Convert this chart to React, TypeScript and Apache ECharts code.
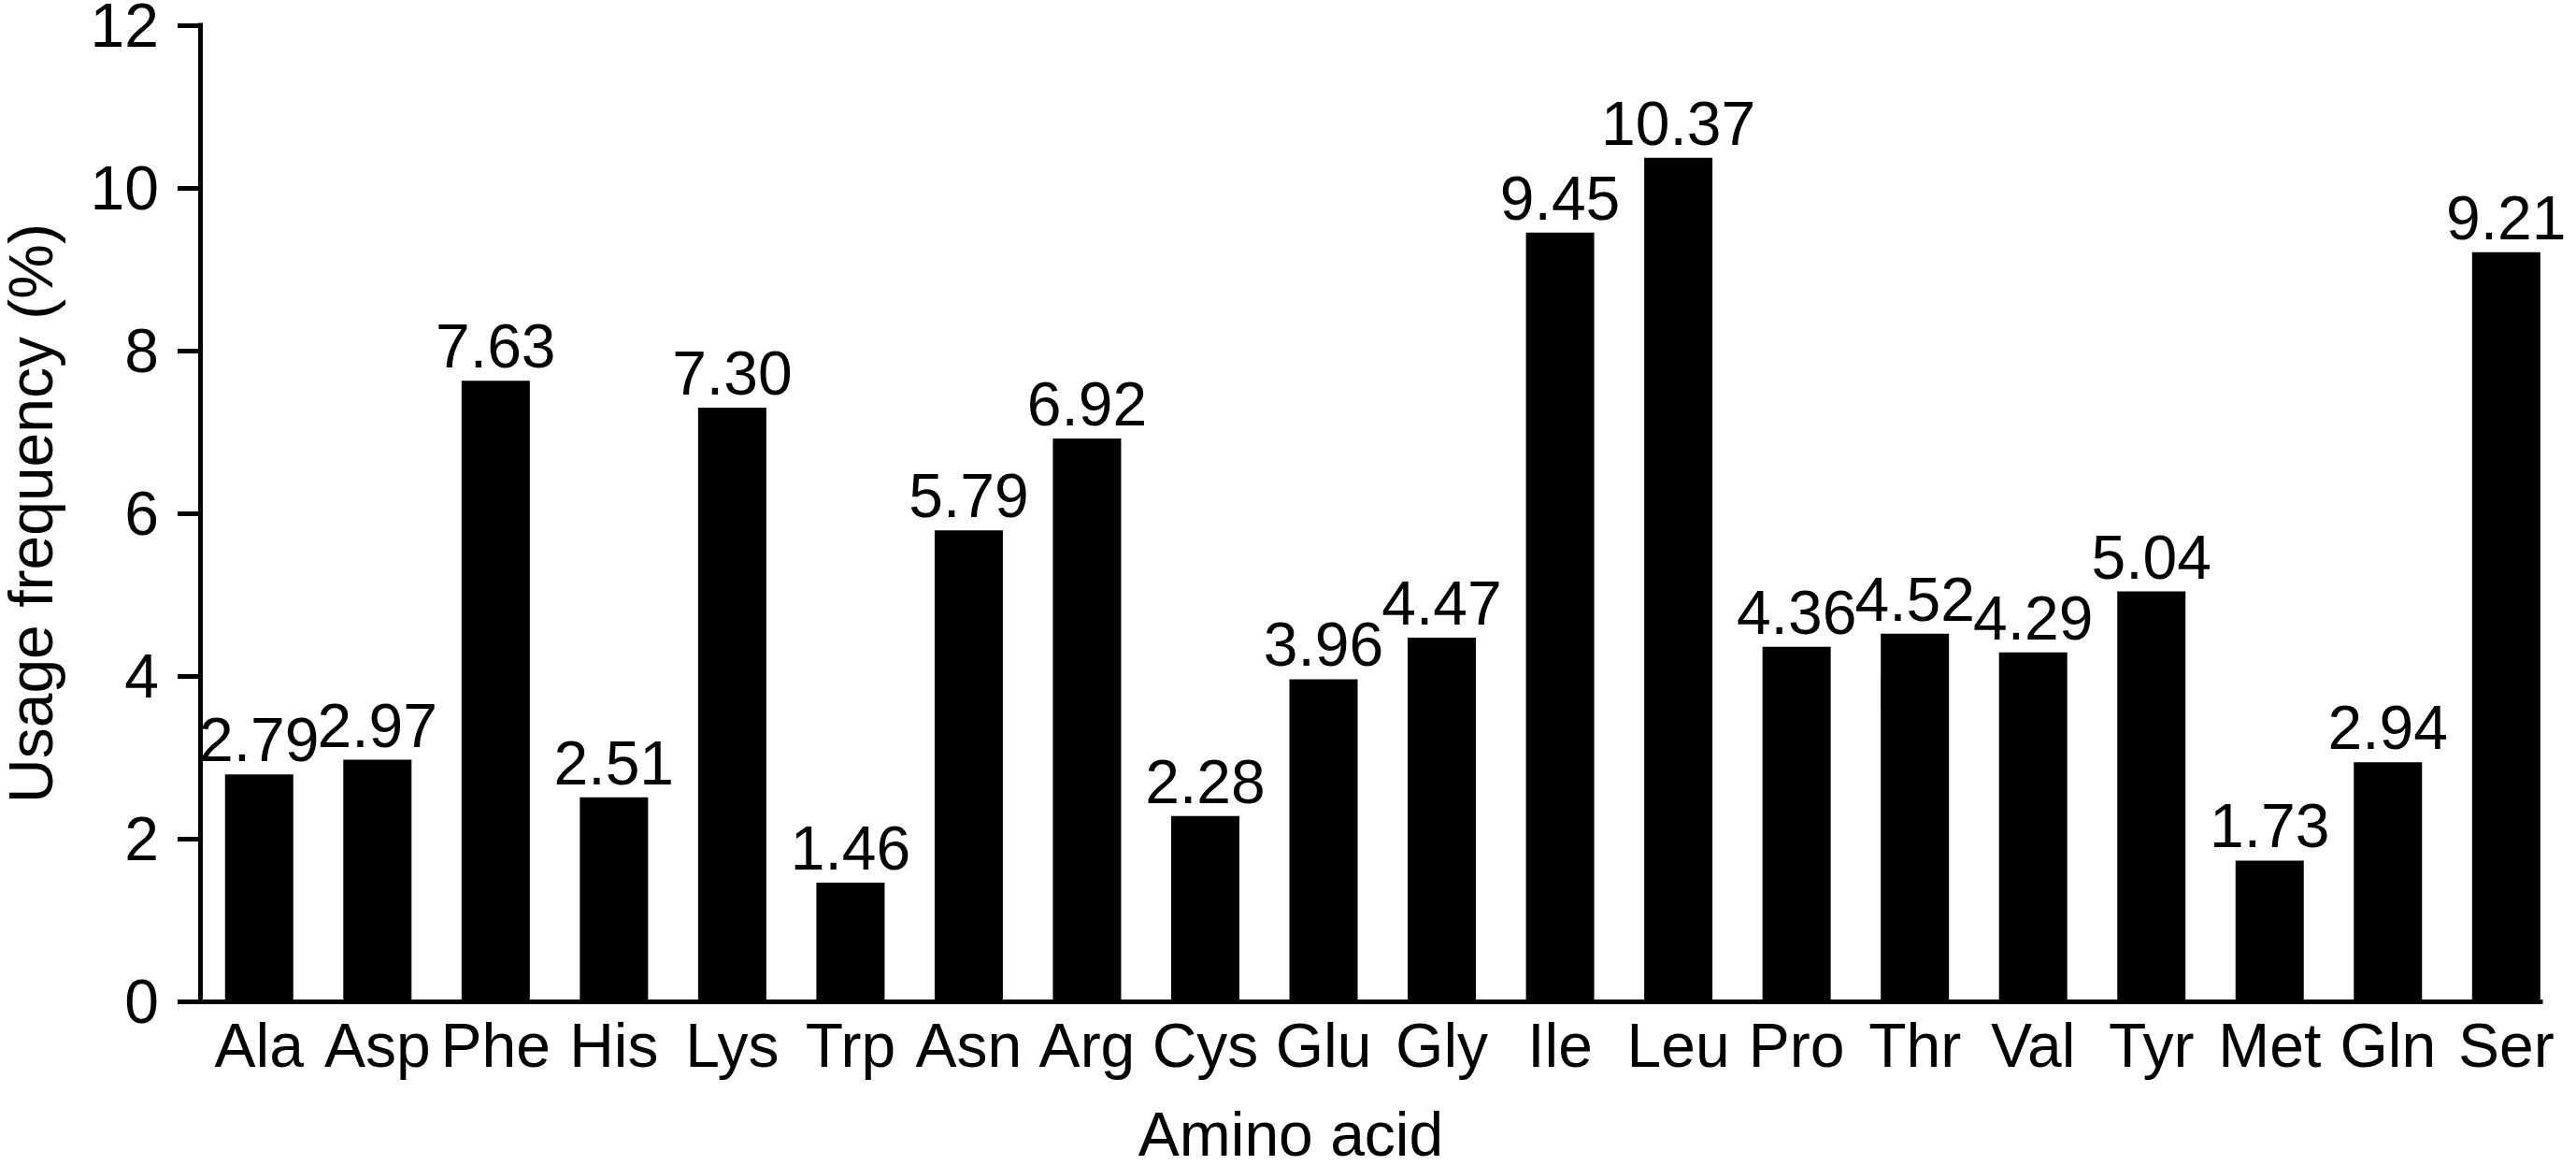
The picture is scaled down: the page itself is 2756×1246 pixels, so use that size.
import React, { useEffect, useRef } from "react";
import * as echarts from "echarts";

const categories = ["Ala", "Asp", "Phe", "His", "Lys", "Trp", "Asn", "Arg", "Cys", "Glu", "Gly", "Ile", "Leu", "Pro", "Thr", "Val", "Tyr", "Met", "Gln", "Ser"];
const usageFrequency = [2.79, 2.97, 7.63, 2.51, 7.30, 1.46, 5.79, 6.92, 2.28, 3.96, 4.47, 9.45, 10.37, 4.36, 4.52, 4.29, 5.04, 1.73, 2.94, 9.21];
const yMin = 0;
const yMax = 12;
const yStep = 2;

const FONT = "'Liberation Sans', Arial, Helvetica, sans-serif";

export default function App() {
  const ref = useRef<HTMLDivElement>(null);
  useEffect(() => {
    document.body.style.margin = "0";
    const chart = echarts.init(ref.current!, null, { renderer: "svg" });
    chart.setOption({
      animation: false,
      backgroundColor: "#ffffff",
      textStyle: { fontFamily: FONT, color: "#000" },
      grid: { left: 214, right: 38, top: 27, bottom: 175, containLabel: false, outerBoundsMode: "none" },
      xAxis: {
        type: "value",
        min: -0.5,
        max: 19.29,
        interval: 0.5,
        name: "Amino acid",
        nameLocation: "middle",
        nameGap: 120,
        nameTextStyle: { fontSize: 66, lineHeight: 44, color: "#000", fontFamily: FONT, padding: [0, 170, 0, 0] },
        axisLine: { show: true, onZero: false, lineStyle: { color: "#000", width: 5, cap: "square" } },
        axisTick: { show: false },
        splitLine: { show: false },
        axisLabel: {
          show: true,
          margin: 14,
          fontSize: 66,
          color: "#000",
          fontFamily: FONT,
          showMinLabel: true,
          showMaxLabel: true,
          formatter: (v: number) => {
            const r = Math.round(v);
            return Math.abs(v - r) < 1e-6 && r >= 0 && r < categories.length ? categories[r] : "";
          },
        },
      },
      yAxis: {
        type: "value",
        min: yMin,
        max: yMax,
        interval: yStep,
        name: "Usage frequency (%)",
        nameLocation: "middle",
        nameGap: 156,
        nameTextStyle: { fontSize: 66, lineHeight: 50, color: "#000", fontFamily: FONT },
        axisLine: { show: true, onZero: false, lineStyle: { color: "#000", width: 5, cap: "square" } },
        axisTick: { show: true, inside: false, length: 24, lineStyle: { color: "#000", width: 5 } },
        splitLine: { show: false },
        axisLabel: { margin: 44, fontSize: 66, lineHeight: 40, color: "#000", fontFamily: FONT },
      },
      series: [
        {
          type: "bar",
          data: usageFrequency.map((v, i) => [i, v]),
          barWidth: 73,
          itemStyle: { color: "#000" },
          label: {
            show: true,
            position: "top",
            distance: 4,
            fontSize: 66,
            color: "#000",
            fontFamily: FONT,
            formatter: (p: any) => Number(p.value[1]).toFixed(2),
          },
        },
      ],
    });
    return () => chart.dispose();
  }, []);
  return <div ref={ref} style={{ width: 2756, height: 1246 }} />;
}
